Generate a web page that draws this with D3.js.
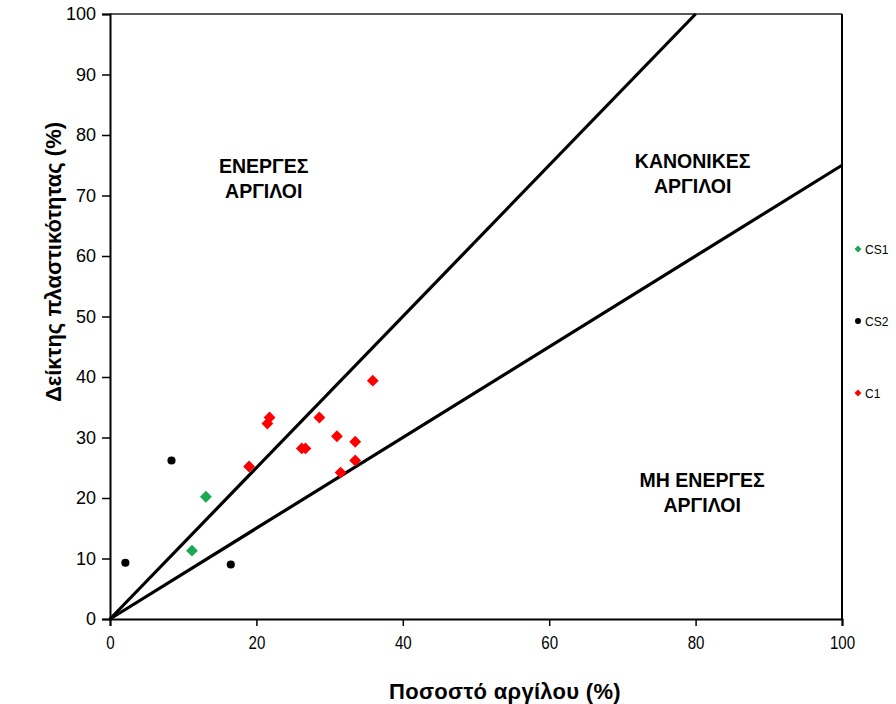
<!DOCTYPE html>
<html>
<head>
<meta charset="utf-8">
<script src="https://cdn.jsdelivr.net/npm/d3@7"></script>
<style>
  html, body { margin: 0; padding: 0; background: #fff; }
  svg { display: block; }
  .tick text { font-family: "Liberation Sans", Arial, sans-serif; }
</style>
</head>
<body>
<svg id="chart" width="896" height="704"></svg>
<script>
// Activity chart: plasticity index vs clay fraction
const xTicks = [0, 20, 40, 60, 80, 100];
const yTicks = [0, 10, 20, 30, 40, 50, 60, 70, 80, 90, 100];

// Activity boundaries (PI / clay fraction)
const activityLimits = [1.25, 0.75];

const seriesNames = ["CS1", "CS2", "C1"];
const seriesColors = ["#1aa850", "#000000", "#ff0000"];
const seriesShapes = ["diamond", "circle", "diamond"];

const cs1Clay = [11.2, 13.1];
const cs1PI   = [11.3, 20.2];

const cs2Clay = [2.1, 8.4, 16.5];
const cs2PI   = [9.3, 26.2, 9.0];

const c1Clay = [21.8, 21.5, 35.9, 28.6, 19.0, 26.2, 26.7, 31.0, 33.5, 33.5, 31.5];
const c1PI   = [33.3, 32.3, 39.4, 33.3, 25.2, 28.2, 28.2, 30.2, 29.3, 26.2, 24.2];

const zoneLabels = [
  { lines: ["ΕΝΕΡΓΕΣ", "ΑΡΓΙΛΟΙ"], clay: 21.0, pi: 73.7 },
  { lines: ["ΚΑΝΟΝΙΚΕΣ", "ΑΡΓΙΛΟΙ"], clay: 79.6, pi: 74.5 },
  { lines: ["ΜΗ ΕΝΕΡΓΕΣ", "ΑΡΓΙΛΟΙ"], clay: 80.9, pi: 21.8 }
];

const series = [
  { x: cs1Clay, y: cs1PI },
  { x: cs2Clay, y: cs2PI },
  { x: c1Clay,  y: c1PI }
];

const svg = d3.select("#chart");
const plotLeft = 110, plotRight = 842, plotTop = 14, plotBottom = 619;

const x = d3.scaleLinear().domain([0, 100]).range([plotLeft, plotRight]);
const y = d3.scaleLinear().domain([0, 100]).range([plotBottom, plotTop]);

// Plot frame: top and right edges
svg.append("line").attr("x1", plotLeft).attr("x2", plotRight).attr("y1", plotTop).attr("y2", plotTop)
  .attr("stroke", "#222").attr("stroke-width", 1.5);
svg.append("line").attr("x1", plotRight).attr("x2", plotRight).attr("y1", plotTop).attr("y2", plotBottom)
  .attr("stroke", "#000").attr("stroke-width", 2);

// Axes
const xAxis = svg.append("g").attr("transform", `translate(0,${plotBottom})`)
  .call(d3.axisBottom(x).tickValues(xTicks).tickSize(7).tickPadding(10).tickFormat(d3.format("d")));
const yAxis = svg.append("g").attr("transform", `translate(${plotLeft},0)`)
  .call(d3.axisLeft(y).tickValues(yTicks).tickSize(8).tickPadding(6).tickFormat(d3.format("d")));

[xAxis, yAxis].forEach(g => {
  g.select(".domain").attr("stroke", "#000").attr("stroke-width", 2);
  g.selectAll(".tick line").attr("stroke", "#000").attr("stroke-width", 1.5);
  g.selectAll(".tick text").attr("fill", "#000").style("font-size", "18px");
});
// condensed digits on the clay axis
xAxis.selectAll(".tick text").attr("transform", "scale(0.84,1)");

// Activity boundary lines through the origin, clipped to the plot
activityLimits.forEach(a => {
  const xEnd = Math.min(100, 100 / a);
  svg.append("line")
    .attr("x1", x(0)).attr("y1", y(0))
    .attr("x2", x(xEnd)).attr("y2", y(a * xEnd))
    .attr("stroke", "#000").attr("stroke-width", 3.2);
});

// Zone labels
zoneLabels.forEach(z => {
  const t = svg.append("text")
    .attr("x", x(z.clay)).attr("y", y(z.pi))
    .attr("text-anchor", "middle")
    .style("font-family", "'Liberation Sans', Arial, sans-serif")
    .style("font-weight", "bold").style("font-size", "19.5px");
  z.lines.forEach((l, i) => {
    t.append("tspan").attr("x", x(z.clay)).attr("dy", i === 0 ? 0 : 24.5).text(l);
  });
});

// Data points
const square = d3.symbol().type(d3.symbolSquare);
const circle = d3.symbol().type(d3.symbolCircle);

series.forEach((s, i) => {
  const pts = s.x.map((v, k) => [v, s.y[k]]);
  const isDiamond = seriesShapes[i] === "diamond";
  svg.append("g").selectAll("path").data(pts).join("path")
    .attr("transform", d => `translate(${x(d[0])},${y(d[1])})` + (isDiamond ? " rotate(45)" : ""))
    .attr("d", isDiamond ? square.size(70)() : circle.size(52)())
    .attr("fill", seriesColors[i]);
});

// Legend
const legendY = [249, 321, 393];
seriesNames.forEach((name, i) => {
  const isDiamond = seriesShapes[i] === "diamond";
  const g = svg.append("g").attr("transform", `translate(858,${legendY[i]})`);
  g.append("path")
    .attr("transform", isDiamond ? "rotate(45)" : null)
    .attr("d", isDiamond ? square.size(24)() : circle.size(28)())
    .attr("fill", seriesColors[i]);
  g.append("text").attr("x", 7).attr("y", 4.5)
    .style("font-family", "'Liberation Sans', Arial, sans-serif")
    .style("font-size", "12px").attr("fill", "#000").text(name);
});

// Axis titles
svg.append("text")
  .attr("x", 505).attr("y", 699)
  .attr("text-anchor", "middle")
  .style("font-family", "'Liberation Sans', Arial, sans-serif")
  .style("font-weight", "bold").style("font-size", "22px")
  .style("letter-spacing", "0.3px")
  .text("Ποσοστό αργίλου (%)");

svg.append("text")
  .attr("transform", "translate(61,262) rotate(-90)")
  .attr("text-anchor", "middle")
  .style("font-family", "'Liberation Sans', Arial, sans-serif")
  .style("font-weight", "bold").style("font-size", "22px")
  .text("Δείκτης πλαστικότητας (%)");
</script>
</body>
</html>
